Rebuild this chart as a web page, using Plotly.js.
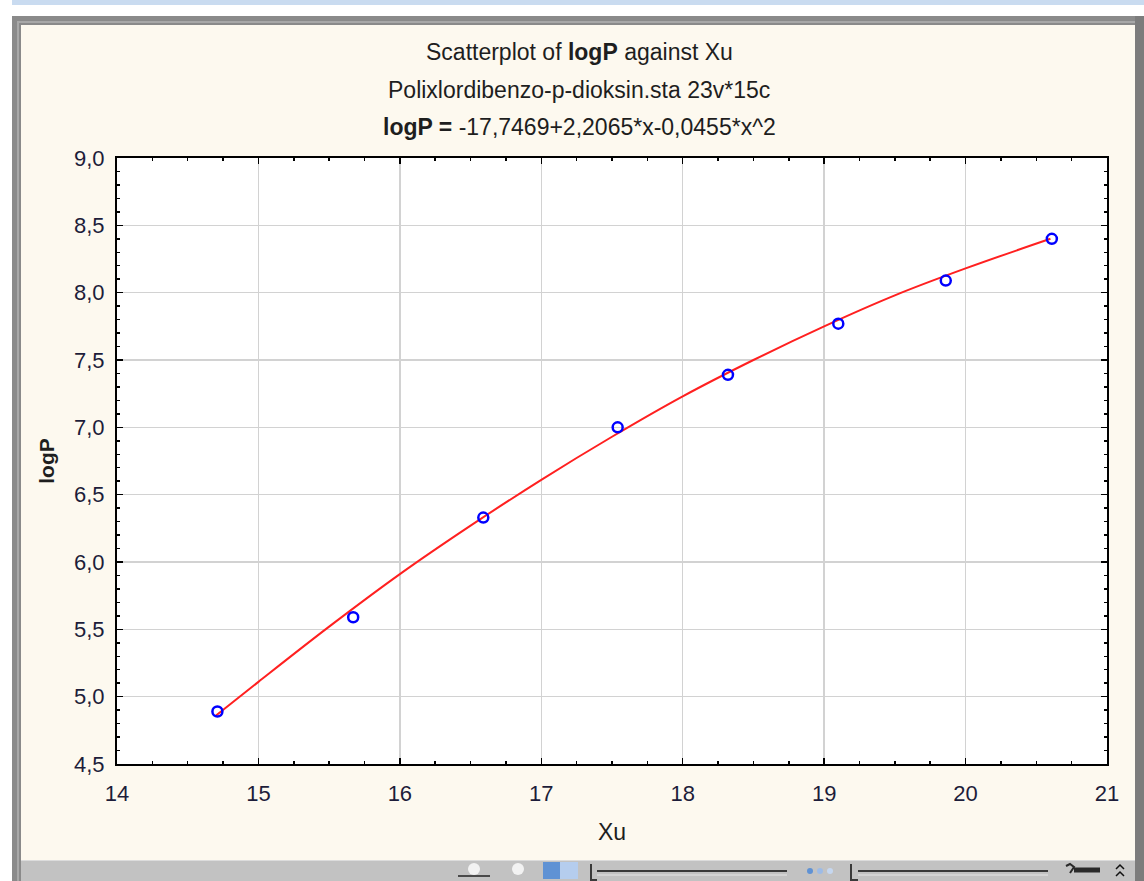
<!DOCTYPE html>
<html><head><meta charset="utf-8">
<script src="https://cdn.plot.ly/plotly-3.0.1.min.js"></script>
<style>html,body{margin:0;padding:0;background:#fff;}#chart{width:1144px;height:881px;}</style>
</head><body><div id="chart"></div>
<script>
// Observed data points (Xu, logP)
const xu = [14.71, 15.67, 16.59, 17.54, 18.32, 19.10, 19.86, 20.61];
const logP = [4.89, 5.59, 6.33, 7.00, 7.39, 7.77, 8.09, 8.40];
// Fitted curve values
const fitX = [14.7, 15.0, 15.5, 16.0, 16.5, 17.0, 17.5, 18.0, 18.5, 19.0, 19.5, 20.0, 20.6];
const fitY = [4.86, 5.11, 5.52, 5.91, 6.27, 6.61, 6.93, 7.23, 7.50, 7.75, 7.98, 8.18, 8.40];
// Tick labels
const xTickVals = [14, 15, 16, 17, 18, 19, 20, 21];
const xTickText = ['14', '15', '16', '17', '18', '19', '20', '21'];
const yTickVals = [4.5, 5.0, 5.5, 6.0, 6.5, 7.0, 7.5, 8.0, 8.5, 9.0];
const yTickText = ['4,5', '5,0', '5,5', '6,0', '6,5', '7,0', '7,5', '8,0', '8,5', '9,0'];

const W = 1144, H = 881;
const M = {l: 117, r: 37, t: 158, b: 117};
const PW = W - M.l - M.r, PH = H - M.t - M.b;
const px = v => (v - M.l) / PW;
const py = v => (H - M.b - v) / PH;
function rect(x0, y0, x1, y1, fill, layer) {
  return {type: 'rect', xref: 'paper', yref: 'paper', x0: px(x0), x1: px(x1), y0: py(y1), y1: py(y0),
          fillcolor: fill, line: {width: 0}, layer: layer || 'below'};
}
function line(x0, y0, x1, y1, color, w) {
  return {type: 'line', xref: 'paper', yref: 'paper', x0: px(x0), x1: px(x1), y0: py(y0), y1: py(y1),
          line: {color: color, width: w}, layer: 'above'};
}
function circ(cxp, cyp, r, fill) {
  return {type: 'circle', xref: 'paper', yref: 'paper', x0: px(cxp - r), x1: px(cxp + r), y0: py(cyp + r), y1: py(cyp - r),
          fillcolor: fill, line: {width: 0}, layer: 'above'};
}
function path(pts, color, w) {
  const d = pts.map((p, i) => (i ? 'L' : 'M') + px(p[0]) + ',' + py(p[1])).join(' ');
  return {type: 'path', xref: 'paper', yref: 'paper', path: d, line: {color: color, width: w}, layer: 'above'};
}
const shapes = [
  rect(0, 0, W, 17, '#ffffff'),
  rect(0, 0, W, 5, '#c9dbf0'),
  rect(0, 0, 12, H, '#ffffff'),
  rect(12, 16, W, 25, '#8a8a8a'),
  rect(12, 16, 21, H, '#8a8a8a'),
  rect(17, 21, W, 23, '#a8a8a8'),
  rect(17, 21, 19, H, '#a8a8a8'),
  rect(1135, 16, W, H, '#7c7c7c'),
  rect(21, 860, 1135, H, '#c2c2c2'),
  rect(21, 860, 1135, 861, '#dcdcdc'),
  // toolbar decorations
  rect(543, 862, 560, 879, '#5f92d4', 'above'),
  rect(560, 862, 578, 879, '#b5cdee', 'above'),
  line(597, 871, 787, 871, '#3a3a3a', 2),
  line(597, 875, 787, 875, '#e6e6e6', 1),
  path([[591, 864], [591, 880], [597, 880]], '#3a3a3a', 2),
  line(858, 871, 1048, 871, '#3a3a3a', 2),
  line(858, 875, 1048, 875, '#e6e6e6', 1),
  path([[851, 864], [851, 880], [858, 880]], '#3a3a3a', 2),
  circ(810, 871, 3, '#5f92d4'), circ(820, 871, 3, '#9dbbe6'), circ(830, 871, 3, '#c5d7f0'),
  line(1074, 870, 1100, 870, '#2a2a2a', 5),
  path([[1066, 866], [1070, 864], [1074, 867], [1070, 873]], '#2a2a2a', 2),
  path([[1116, 869], [1120, 865], [1124, 869]], '#111', 1.5),
  path([[1116, 876], [1120, 872], [1124, 876]], '#111', 1.5),
  line(458, 876, 490, 876, '#222', 1.5),
  circ(474, 869, 6, '#f2f2f2'),
  circ(518, 869, 6, '#f2f2f2')
];

const FAM = 'Liberation Sans, Arial, sans-serif';
const annFont = {family: FAM, size: 23, color: '#1e1e1e'};
const cx = px(579);
const annotations = [
  {text: 'Scatterplot of <b>logP</b> against Xu', x: cx, y: py(52), xref: 'paper', yref: 'paper', showarrow: false, xanchor: 'center', yanchor: 'middle', font: annFont},
  {text: 'Polixlordibenzo-p-dioksin.sta 23v*15c', x: cx, y: py(90), xref: 'paper', yref: 'paper', showarrow: false, xanchor: 'center', yanchor: 'middle', font: annFont},
  {text: '<b>logP = </b>-17,7469+2,2065*x-0,0455*x^2', x: cx, y: py(127), xref: 'paper', yref: 'paper', showarrow: false, xanchor: 'center', yanchor: 'middle', font: annFont}
];

const tickFont = {family: FAM, size: 22, color: '#1d1d3a'};
const traces = [
  {x: fitX, y: fitY, mode: 'lines', line: {color: '#ff2020', width: 2, shape: 'spline'}, hoverinfo: 'skip', showlegend: false},
  {x: xu, y: logP, mode: 'markers', marker: {symbol: 'circle-open', size: 10, color: '#0000ff', line: {width: 2.5, color: '#0000ff'}}, showlegend: false}
];
const layout = {
  width: W, height: H,
  margin: M,
  paper_bgcolor: '#fdf9ef',
  plot_bgcolor: '#ffffff',
  showlegend: false,
  shapes: shapes,
  annotations: annotations,
  xaxis: {
    range: [14, 21], tickvals: xTickVals, ticktext: xTickText, tickfont: tickFont,
    showgrid: true, gridcolor: '#d2d2d2', gridwidth: 1.3, zeroline: false,
    showline: true, linecolor: '#000', linewidth: 2, mirror: 'ticks',
    ticks: 'inside', ticklen: 6, tickcolor: '#000', tickwidth: 1.5, ticklabelstandoff: 9,
    minor: {dtick: 0.25, ticks: 'inside', ticklen: 3, tickcolor: '#000', showgrid: false},
    title: {text: 'Xu', font: {family: FAM, size: 23, color: '#1e1e1e'}, standoff: 18}
  },
  yaxis: {
    range: [4.5, 9.0], tickvals: yTickVals, ticktext: yTickText, tickfont: tickFont,
    showgrid: true, gridcolor: '#d2d2d2', gridwidth: 1.3, zeroline: false,
    showline: true, linecolor: '#000', linewidth: 2, mirror: 'ticks',
    ticks: 'inside', ticklen: 6, tickcolor: '#000', tickwidth: 1.5, ticklabelstandoff: 6,
    minor: {dtick: 0.1, ticks: 'inside', ticklen: 3, tickcolor: '#000', showgrid: false},
    title: {text: '<b>logP</b>', font: {family: FAM, size: 21, color: '#1e1e1e'}, standoff: 14}
  }
};
Plotly.newPlot('chart', traces, layout, {displayModeBar: false, staticPlot: true});
</script></body></html>
